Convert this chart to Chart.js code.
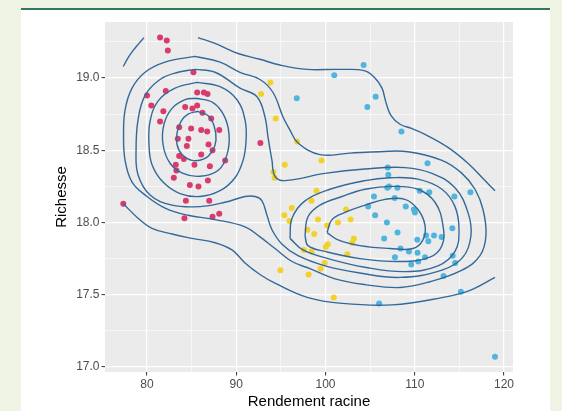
<!DOCTYPE html>
<html>
<head>
<meta charset="utf-8">
<script src="https://cdn.jsdelivr.net/npm/chart.js@4"></script>
<style>
  body { margin: 0; background: #eff3e4; }
  #card {
    position: absolute; left: 21px; top: 8px; width: 529px; height: 401px;
    background: #fff; border-top: 2px solid #2e7b5c;
  }
  #chart { position: absolute; left: 0; top: 0; }
</style>
</head>
<body>
<div id="card"></div>
<canvas id="chart" width="562" height="411"></canvas>
<script>
'use strict'

const xTicks = [80, 85, 90, 95, 100, 105, 110, 115, 120]
const yTicks = [17, 17.25, 17.5, 17.75, 18, 18.25, 18.5, 18.75, 19, 19.25]

// points, [Rendement racine, Richesse]
const redPoints = [
  [81.46, 19.28], [82.21, 19.26], [82.33, 19.19], [85.20, 19.04], [80.00, 18.88],
  [82.10, 18.91], [85.62, 18.90], [86.37, 18.90], [86.78, 18.89], [80.48, 18.81],
  [81.83, 18.77], [84.27, 18.80], [85.09, 18.79], [85.62, 18.81], [86.21, 18.76],
  [87.19, 18.72], [81.46, 18.70], [83.60, 18.66], [84.94, 18.65], [86.07, 18.64],
  [86.74, 18.63], [88.09, 18.64], [83.45, 18.58], [84.64, 18.58], [84.46, 18.53],
  [86.89, 18.54], [87.34, 18.50], [83.60, 18.46], [84.12, 18.44], [86.07, 18.47],
  [88.76, 18.43], [83.22, 18.40], [85.31, 18.40], [87.04, 18.39], [83.29, 18.36],
  [83.00, 18.31], [86.82, 18.29], [84.80, 18.26], [85.76, 18.25], [84.35, 18.15],
  [86.97, 18.15], [77.34, 18.13], [84.19, 18.03], [87.34, 18.04], [88.09, 18.06],
  [92.70, 18.55]
]
const yellowPoints = [
  [93.82, 18.97], [92.78, 18.89], [94.42, 18.72], [96.82, 18.56], [95.43, 18.40],
  [99.55, 18.43], [94.16, 18.35], [94.30, 18.31], [98.99, 18.22], [98.43, 18.15],
  [96.21, 18.10], [95.39, 18.05], [95.96, 18.01], [99.16, 18.02], [102.30, 18.09],
  [102.81, 18.02], [101.40, 18.00], [100.19, 17.98], [97.96, 17.95], [98.74, 17.92],
  [103.18, 17.89], [103.00, 17.86], [100.25, 17.85], [100.03, 17.83], [97.58, 17.81],
  [98.43, 17.80], [102.44, 17.78], [99.91, 17.72], [99.44, 17.68], [94.94, 17.67],
  [98.11, 17.64], [100.93, 17.48]
]
const bluePoints = [
  [104.27, 19.09], [100.98, 19.02], [96.78, 18.86], [105.62, 18.87], [104.69, 18.80],
  [108.51, 18.63], [111.43, 18.41], [106.97, 18.38], [107.04, 18.33], [106.93, 18.24],
  [107.11, 18.25], [108.06, 18.24], [110.56, 18.22], [111.63, 18.21], [114.44, 18.18],
  [116.24, 18.21], [105.43, 18.18], [107.75, 18.17], [108.99, 18.11], [109.91, 18.09],
  [110.02, 18.07], [104.78, 18.11], [105.56, 18.05], [106.88, 18.00], [114.21, 17.96],
  [106.57, 17.89], [108.07, 17.93], [110.28, 17.88], [111.27, 17.91], [111.52, 17.87],
  [112.16, 17.91], [113.01, 17.90], [108.40, 17.82], [109.35, 17.80], [110.31, 17.79],
  [111.15, 17.76], [107.78, 17.76], [109.61, 17.71], [110.39, 17.73], [114.25, 17.77],
  [114.53, 17.72], [113.22, 17.63], [115.17, 17.52], [106.01, 17.44], [118.99, 17.07]
]

// density contours
const level1Top = [
  [85.71, 19.28], [87.62, 19.24], [90.20, 19.17], [92.66, 19.13], [94.90, 19.09],
  [97.93, 19.06], [101.62, 19.06], [104.42, 19.05], [105.54, 19.00], [106.33, 18.93],
  [106.78, 18.83], [107.34, 18.74], [108.35, 18.68], [109.69, 18.65], [111.15, 18.61],
  [113.72, 18.52], [115.96, 18.41], [117.87, 18.29], [118.99, 18.22]
]
const level1Arc = [[77.34, 19.08], [77.87, 19.14], [78.43, 19.19], [79.10, 19.24], [79.66, 19.28]]
const level1Bottom = [
  [77.34, 18.13], [78.99, 18.03], [80.56, 17.96], [82.80, 17.92], [85.04, 17.89],
  [87.62, 17.86], [89.52, 17.81], [90.98, 17.72], [92.66, 17.64], [94.34, 17.58],
  [98.04, 17.48], [101.85, 17.44], [107.45, 17.43], [113.05, 17.48], [116.19, 17.53],
  [118.99, 17.62]
]
const level2 = [
  [85.38, 19.15], [88.18, 19.11], [90.42, 19.04], [92.66, 18.99], [94.12, 18.90],
  [95.24, 18.73], [96.02, 18.64], [96.92, 18.55], [99.38, 18.47], [102.74, 18.48],
  [106.10, 18.49], [109.24, 18.49], [113.05, 18.43], [115.29, 18.34], [116.75, 18.23],
  [117.65, 18.09], [117.98, 17.91], [117.31, 17.77], [115.29, 17.67], [111.71, 17.59],
  [108.35, 17.55], [104.42, 17.57], [101.06, 17.61], [98.26, 17.68], [96.25, 17.73],
  [94.34, 17.82], [92.66, 17.90], [90.98, 17.97], [87.62, 18.02], [84.59, 18.05],
  [82.02, 18.10], [80.00, 18.18], [78.32, 18.28], [77.54, 18.43], [77.37, 18.61],
  [77.54, 18.78], [78.32, 18.93], [79.78, 19.04], [82.02, 19.11], [85.38, 19.15]
]
const level3 = [
  [85.38, 19.06], [87.62, 19.04], [90.42, 18.93], [92.32, 18.87], [93.22, 18.73],
  [93.56, 18.59], [94.00, 18.43], [94.34, 18.32], [95.46, 18.29], [99.94, 18.34],
  [104.42, 18.37], [108.91, 18.38], [111.93, 18.34], [114.51, 18.24], [115.96, 18.07],
  [116.30, 17.91], [115.40, 17.76], [113.05, 17.67], [108.35, 17.62], [103.86, 17.65],
  [99.94, 17.70], [96.92, 17.77], [95.13, 17.85], [94.00, 17.95], [93.44, 18.05],
  [92.88, 18.15], [92.10, 18.18], [90.98, 18.18], [88.74, 18.14], [85.94, 18.11],
  [82.80, 18.12], [80.34, 18.19], [78.99, 18.33], [78.77, 18.50], [78.99, 18.71],
  [79.78, 18.88], [81.46, 18.99], [83.47, 19.04], [85.38, 19.06]
]
const left4 = [
  [85.60, 18.97], [88.18, 18.94], [90.08, 18.85], [90.98, 18.71], [91.10, 18.57],
  [90.76, 18.43], [89.86, 18.31], [88.18, 18.22], [85.94, 18.18], [83.70, 18.20],
  [81.79, 18.28], [80.56, 18.40], [80.22, 18.54], [80.34, 18.70], [81.23, 18.84],
  [83.14, 18.93], [85.60, 18.97]
]
const left5 = [
  [85.49, 18.86], [87.39, 18.83], [88.63, 18.74], [89.19, 18.61], [88.96, 18.47],
  [87.95, 18.36], [85.94, 18.32], [84.03, 18.34], [82.58, 18.41], [81.79, 18.54],
  [81.90, 18.68], [82.80, 18.79], [84.26, 18.85], [85.49, 18.86]
]
const left6 = [
  [85.71, 18.77], [86.83, 18.74], [87.51, 18.67], [87.73, 18.57], [87.28, 18.49],
  [86.39, 18.44], [85.04, 18.43], [83.92, 18.47], [83.36, 18.54], [83.36, 18.62],
  [83.81, 18.70], [84.59, 18.75], [85.71, 18.77]
]
const right4 = [
  [96.02, 17.89], [96.25, 18.03], [97.70, 18.15], [100.50, 18.23], [104.42, 18.29],
  [107.23, 18.31], [110.36, 18.30], [113.05, 18.23], [114.51, 18.11], [114.96, 17.95],
  [114.51, 17.80], [112.60, 17.70], [108.91, 17.66], [104.42, 17.69], [100.28, 17.75],
  [97.48, 17.81], [96.02, 17.89]
]
const right5 = [
  [97.70, 17.91], [98.04, 18.04], [99.38, 18.12], [101.85, 18.18], [104.42, 18.23],
  [107.45, 18.25], [110.36, 18.23], [112.27, 18.14], [113.16, 17.98], [113.05, 17.84],
  [111.71, 17.76], [108.35, 17.73], [103.86, 17.75], [99.94, 17.80], [98.04, 17.84],
  [97.70, 17.91]
]
const right6 = [
  [100.17, 17.93], [100.73, 18.02], [102.18, 18.07], [104.42, 18.12], [106.67, 18.16],
  [108.91, 18.16], [110.36, 18.09], [111.15, 17.98], [110.92, 17.88], [109.80, 17.82],
  [107.23, 17.82], [103.86, 17.84], [101.40, 17.88], [100.17, 17.93]
]

const contours = [level1Top, level1Arc, level1Bottom, level2, level3,
  left4, left5, left6, right4, right5, right6]

const toXY = list => list.map(([x, y]) => ({ x, y }))

const pointSet = (list, color) => ({
  type: 'scatter',
  data: toXY(list),
  backgroundColor: color,
  borderWidth: 0,
  pointRadius: 3,
  order: 2
})

const lineSet = list => ({
  type: 'line',
  data: toXY(list),
  borderColor: '#33699a',
  borderWidth: 1.4,
  pointRadius: 0,
  tension: 0.4,
  fill: false,
  order: 1
})

const isMajorX = v => Math.abs(v % 10) < 1e-6
const isMajorY = v => Math.abs(v * 2 - Math.round(v * 2)) < 1e-6

const panelBg = {
  id: 'panelBg',
  beforeDraw: chart => {
    const { ctx, chartArea: a } = chart
    ctx.save()
    ctx.fillStyle = '#ebebeb'
    ctx.fillRect(a.left, a.top, a.right - a.left, a.bottom - a.top)
    ctx.restore()
  }
}

const tickFont = { family: '"Liberation Sans", Arial, sans-serif', size: 12 }
const titleFont = { family: '"Liberation Sans", Arial, sans-serif', size: 15 }

const grid = isMajor => ({
  color: '#ffffff',
  lineWidth: c => isMajor(c.tick.value) ? 1.2 : 0.6,
  tickColor: c => isMajor(c.tick.value) ? '#333333' : 'rgba(0,0,0,0)',
  tickWidth: 1,
  tickLength: 3.5,
  drawTicks: true
})

new Chart(document.getElementById('chart'), {
  type: 'scatter',
  data: {
    datasets: [
      pointSet(redPoints, '#d93b6c'),
      pointSet(yellowPoints, '#f1d12a'),
      pointSet(bluePoints, '#4fb5dc'),
      ...contours.map(lineSet)
    ]
  },
  options: {
    responsive: false,
    animation: false,
    layout: { padding: { left: 0, top: 22, right: 49, bottom: 0 } },
    plugins: { legend: { display: false }, tooltip: { enabled: false } },
    scales: {
      x: {
        type: 'linear',
        min: 75.29,
        max: 121.01,
        afterBuildTicks: axis => { axis.ticks = xTicks.map(value => ({ value })) },
        afterFit: axis => { axis.height = 39 },
        border: { display: false },
        grid: grid(isMajorX),
        ticks: {
          autoSkip: false,
          maxRotation: 0,
          padding: 2,
          color: '#4d4d4d',
          font: tickFont,
          callback: v => isMajorX(v) ? String(v) : ''
        },
        title: {
          display: true,
          text: 'Rendement racine',
          color: '#000',
          font: titleFont,
          padding: { top: 0, bottom: 0 }
        }
      },
      y: {
        type: 'linear',
        min: 16.965,
        max: 19.388,
        afterBuildTicks: axis => { axis.ticks = yTicks.map(value => ({ value })) },
        afterFit: axis => { axis.width = 105 },
        border: { display: false },
        grid: grid(isMajorY),
        ticks: {
          autoSkip: false,
          padding: 2,
          color: '#4d4d4d',
          font: tickFont,
          callback: v => isMajorY(v) ? v.toFixed(1) : ''
        },
        title: {
          display: true,
          text: 'Richesse',
          color: '#000',
          font: titleFont,
          padding: { top: 53, bottom: 0 }
        }
      }
    }
  },
  plugins: [panelBg]
})
</script>
</body>
</html>
